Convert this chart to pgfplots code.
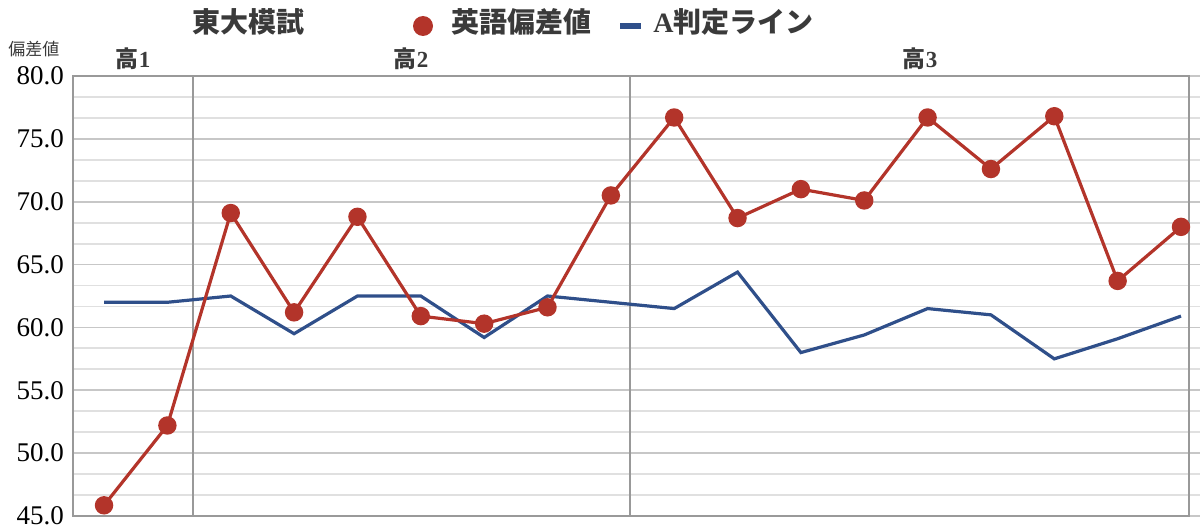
\documentclass[border=0pt]{standalone}
\usepackage{pgfplots}
\pgfplotsset{compat=1.18}
\usepackage{fontspec}
\setmainfont{Liberation Serif}
\newfontfamily\cjk{Noto Sans CJK JP}
\definecolor{redS}{HTML}{B3342A}
\definecolor{blueS}{HTML}{2F4F8A}
\definecolor{txt}{HTML}{3A3A3A}
\definecolor{boxc}{HTML}{999999}
\begin{document}
\begin{tikzpicture}
\useasboundingbox (0,0) rectangle (600pt,263pt);
\begin{axis}[
  at={(36.5pt,5pt)}, anchor=south west,
  scale only axis, width=563.5pt, height=220pt,
  xmin=0.51, xmax=18.30, ymin=45, ymax=80,
  axis line style={draw=none},
  xtick=\empty,
  ytick={45,50,...,80},
  minor y tick num=2,
  ymajorgrids, yminorgrids,
  major grid style={draw=black!22, line width=0.9pt},
  minor grid style={draw=black!12, line width=0.9pt},
  major tick length=0pt, minor tick length=0pt,
  yticklabel style={font=\fontsize{13.5}{14}\selectfont, text=black, xshift=-1pt},
  /pgf/number format/.cd, fixed, fixed zerofill, precision=1, assume math mode=true,
  /pgfplots/.cd, clip=false,
]
% group boxes
\draw[boxc, line width=1.2pt] (axis cs:0.51,45) rectangle (axis cs:18.13,80);
\draw[boxc, line width=1.2pt] (axis cs:2.405,45) -- (axis cs:2.405,80);
\draw[boxc, line width=1.2pt] (axis cs:9.30,45) -- (axis cs:9.30,80);
\addplot[blueS, line width=1.6pt, mark=none] coordinates {
(1,62.0) (2,62.0) (3,62.5) (4,59.5) (5,62.5) (6,62.5) (7,59.2) (8,62.5) (9,62.0)
(10,61.5) (11,64.4) (12,58.0) (13,59.4) (14,61.5) (15,61.0) (16,57.5) (17,59.1) (18,60.9)};
\addplot[redS, line width=1.6pt, mark=*, mark size=3.8pt, mark options={fill=redS, draw=redS}] coordinates {
(1,45.85) (2,52.2) (3,69.1) (4,61.2) (5,68.8) (6,60.9) (7,60.3) (8,61.6) (9,70.5)
(10,76.7) (11,68.7) (12,71.0) (13,70.1) (14,76.7) (15,72.6) (16,76.8) (17,63.7) (18,68.0)};
\end{axis}
% texts (coordinates in px/2, y from bottom)
\begin{scope}[x=0.5pt,y=0.5pt]
\node[text=txt, font=\cjk\bfseries\fontsize{14}{15}\selectfont] at (248,504) {東大模試};
\fill[redS] (423,500) circle (10);
\node[text=txt, anchor=west, font=\cjk\bfseries\fontsize{14}{15}\selectfont] at (444,504) {英語偏差値};
\fill[blueS] (620,497) rectangle (641,503);
\node[text=txt, anchor=west, font=\bfseries\fontsize{14}{15}\selectfont, inner sep=0pt] at (653,504) {A{\cjk 判定ライン}};
\node[text=txt, font=\cjk\fontsize{8.5}{9}\selectfont] at (34,477) {偏差値};
\node[text=txt, font=\bfseries\fontsize{11.5}{12}\selectfont] at (133,467) {{\cjk 高}1};
\node[text=txt, font=\bfseries\fontsize{11.5}{12}\selectfont] at (411,467) {{\cjk 高}2};
\node[text=txt, font=\bfseries\fontsize{11.5}{12}\selectfont] at (920,467) {{\cjk 高}3};
\end{scope}
\end{tikzpicture}
\end{document}
